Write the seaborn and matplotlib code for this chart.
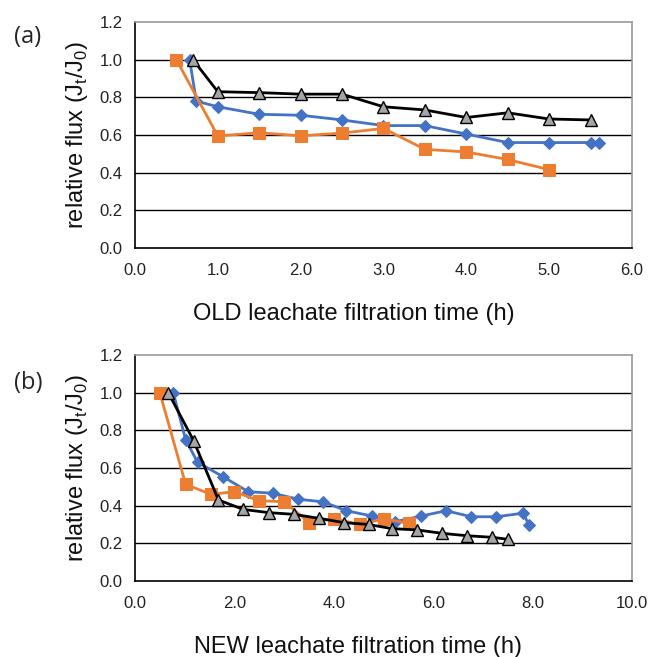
import numpy as np
import pandas as pd
import matplotlib
matplotlib.use("Agg")
import matplotlib.pyplot as plt
import seaborn as sns

# (a) OLD leachate
old_blue_t = [0.66, 0.74, 1.0, 1.5, 2.0, 2.5, 3.0, 3.5, 4.0, 4.5, 5.0, 5.5, 5.6]
old_blue_j = [1.0, 0.78, 0.75, 0.71, 0.705, 0.68, 0.65, 0.65, 0.605, 0.56, 0.56, 0.56, 0.56]
old_orange_t = [0.5, 1.0, 1.5, 2.0, 2.5, 3.0, 3.5, 4.0, 4.5, 5.0]
old_orange_j = [1.0, 0.595, 0.612, 0.596, 0.61, 0.635, 0.524, 0.51, 0.47, 0.416]
old_black_t = [0.7, 1.0, 1.5, 2.0, 2.5, 3.0, 3.5, 4.0, 4.5, 5.0, 5.5]
old_black_j = [1.0, 0.83, 0.825, 0.817, 0.817, 0.75, 0.733, 0.693, 0.718, 0.685, 0.68]

# (b) NEW leachate
new_blue_t = [0.77, 1.02, 1.26, 1.77, 2.28, 2.77, 3.29, 3.79, 4.25, 4.77, 5.24, 5.76, 6.26, 6.77, 7.27, 7.81, 7.93]
new_blue_j = [1.0, 0.75, 0.63, 0.554, 0.474, 0.466, 0.434, 0.42, 0.373, 0.345, 0.315, 0.345, 0.373, 0.341, 0.341, 0.36, 0.296]
new_orange_t = [0.5, 1.02, 1.53, 2.0, 2.5, 3.0, 3.51, 4.01, 4.52, 5.02, 5.52]
new_orange_j = [1.0, 0.513, 0.46, 0.474, 0.426, 0.421, 0.31, 0.33, 0.30, 0.33, 0.306]
new_black_t = [0.67, 1.18, 1.68, 2.18, 2.69, 3.19, 3.7, 4.2, 4.7, 5.17, 5.68, 6.18, 6.69, 7.19, 7.51]
new_black_j = [1.0, 0.745, 0.43, 0.38, 0.363, 0.354, 0.333, 0.31, 0.30, 0.278, 0.271, 0.253, 0.24, 0.232, 0.221]

x_labels = ["OLD leachate filtration time (h)", "NEW leachate filtration time (h)"]
panel_tags = ["(a)", "(b)"]
tag_y = [0.935, 0.875]
x_max = [6.0, 10.0]
x_step = [1.0, 2.0]
x_label_center = [0.44, 0.448]

sns.set_style("white")
plt.rcParams["font.family"] = ["Liberation Sans", "DejaVu Sans"]
plt.rcParams["mathtext.fontset"] = "custom"
plt.rcParams["mathtext.rm"] = "Liberation Sans"

fig = plt.figure(figsize=(6.6, 6.57), dpi=100)
ax_a = fig.add_axes([0.2045, 0.6225, 0.753, 0.344])
ax_b = fig.add_axes([0.2045, 0.1157, 0.753, 0.344])

blue = "#4472C4"
orange = "#ED7D31"

series = [
    (ax_a, old_blue_t, old_blue_j, old_orange_t, old_orange_j, old_black_t, old_black_j),
    (ax_b, new_blue_t, new_blue_j, new_orange_t, new_orange_j, new_black_t, new_black_j),
]

for i, (ax, bt, bj, ot, oj, kt, kj) in enumerate(series):
    # grid first so the lines sit on top
    for yv in np.arange(0.2, 1.01, 0.2):
        ax.axhline(yv, color="black", lw=1.0, zorder=0)

    sns.lineplot(x=bt, y=bj, ax=ax, color=blue, lw=2, marker="D", markersize=6,
                 markeredgecolor=blue, estimator=None, sort=False, zorder=3)
    sns.lineplot(x=ot, y=oj, ax=ax, color=orange, lw=2, marker="s", markersize=8,
                 markeredgecolor=orange, estimator=None, sort=False, zorder=4)
    sns.lineplot(x=kt, y=kj, ax=ax, color="black", lw=2, marker="^", markersize=8,
                 markerfacecolor="#A5A5A5", markeredgecolor="black", markeredgewidth=1,
                 estimator=None, sort=False, zorder=5)

    ax.set_xlim(0, x_max[i])
    ax.set_ylim(0, 1.2)
    ax.set_xticks(np.arange(0, x_max[i] + 0.01, x_step[i]))
    ax.set_yticks(np.arange(0, 1.21, 0.2))
    ax.xaxis.set_major_formatter(matplotlib.ticker.FormatStrFormatter("%.1f"))
    ax.yaxis.set_major_formatter(matplotlib.ticker.FormatStrFormatter("%.1f"))
    ax.tick_params(axis="both", labelsize=12, colors="#222222", length=5, width=1,
                   direction="out", pad=4)
    ax.tick_params(axis="x", pad=6)

    for s in ["left", "bottom"]:
        ax.spines[s].set_color("black")
        ax.spines[s].set_linewidth(1.2)
    for s in ["top", "right"]:
        ax.spines[s].set_color("#9a9a9a")
        ax.spines[s].set_linewidth(1.2)

    ax.set_xlabel(x_labels[i], fontsize=17, color="#111111")
    ax.xaxis.set_label_coords(x_label_center[i], -0.242)
    ax.set_ylabel("relative flux (J$_{\\mathrm{t}}$/J$_{\\mathrm{0}}$)", fontsize=17,
                  labelpad=7, color="#111111")
    ax.text(-0.243, tag_y[i], panel_tags[i], transform=ax.transAxes, fontsize=17,
            family=["Open Sans", "DejaVu Sans"], ha="left", va="center")

fig.savefig("out.png", dpi=100, facecolor="white")
